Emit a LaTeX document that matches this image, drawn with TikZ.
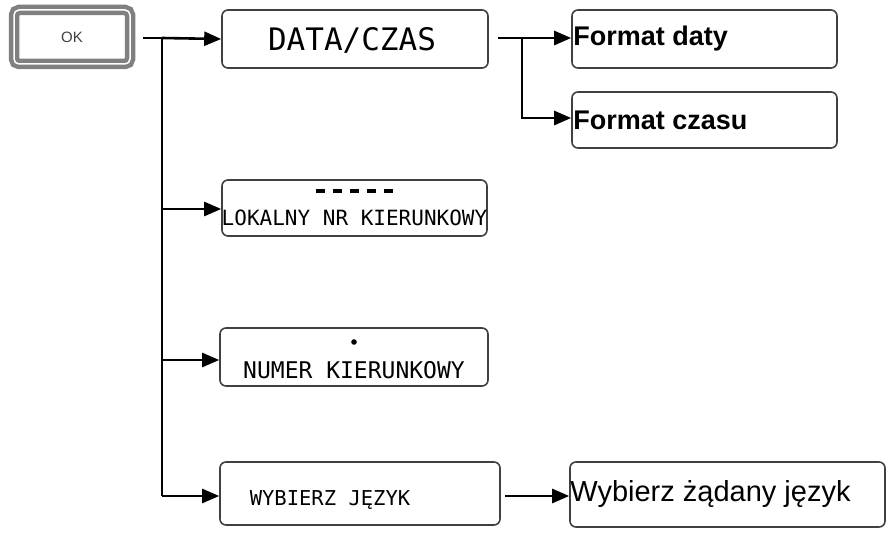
\documentclass[tikz,border=0pt]{standalone}
\usepackage{fontspec}
\setmainfont{Liberation Sans}
\newfontfamily\lcd{DejaVu Sans Mono}
\usetikzlibrary{arrows.meta}
\begin{document}
\begin{tikzpicture}[x=1pt,y=-1pt,
  box/.style={draw=black!75,line width=1.6pt,rounded corners=6pt,inner sep=0pt},
  arr/.style={line width=2.6pt,-{Triangle[length=17pt,width=14pt]}},
  ln/.style={line width=2.6pt}]
\useasboundingbox (0,0) rectangle (887,534);
\node[draw=gray,line width=4.5pt,rounded corners=5pt,minimum width=116pt,minimum height=54pt,inner sep=0pt,double=white,double distance=1.5pt] (ok) at (72,37) {\fontsize{15}{16}\selectfont\color{black!75}OK};
\node[box,minimum width=266pt,minimum height=58pt] (dc) at (355,39) {};
\node[font=\lcd\fontsize{31}{33}\selectfont] at (352,40) {DATA/CZAS};
\node[box,minimum width=265pt,minimum height=58pt] (fd) at (704.5,39) {};
\node[anchor=west,font=\bfseries\fontsize{27}{30}\selectfont,inner sep=2pt] at (fd.west) {Format daty};
\node[box,minimum width=265pt,minimum height=56pt] (fc) at (704.5,120) {};
\node[anchor=west,font=\bfseries\fontsize{27}{30}\selectfont,inner sep=2pt] at (fc.west) {Format czasu};
\node[box,minimum width=265pt,minimum height=56pt] (lk) at (354.5,208) {};
\node[font=\lcd\fontsize{21}{22}\selectfont] at (354.5,218) {LOKALNY NR KIERUNKOWY};
\foreach \i in {0,...,4} \draw[line width=4pt] (316+\i*17,191) -- ++(9,0);
\node[box,minimum width=268pt,minimum height=58pt] (nk) at (354,357) {};
\node[font=\lcd\fontsize{23}{24}\selectfont] at (354,370) {NUMER KIERUNKOWY};
\fill (354,342) circle (2.8pt);
\node[box,minimum width=280pt,minimum height=63pt] (wj) at (360,493.5) {};
\node[font=\lcd\fontsize{20.5}{22}\selectfont] at (330,500) {WYBIERZ JĘZYK};
\node[box,minimum width=315pt,minimum height=65pt] (wz) at (727.5,494.5) {};
\node[anchor=west,font=\fontsize{29}{31}\selectfont,inner sep=1pt] at (wz.west) {Wybierz żądany język};
\coordinate (t) at (162,38);
\coordinate (b) at (162,496);
\draw[ln] (143,38) -- (t) -- (b);
\draw[arr] (t) -- (dc.west);
\draw[arr] (162,209) -- (lk.west|-0,209);
\draw[arr] (162,360) -- (nk.west|-0,360);
\draw[arr] (b) -- (wj.west|-0,496);
\draw[arr] (498,38) -- (fd.west|-0,38);
\draw[arr] (522,38) -- (522,118) -- (fc.west|-0,118);
\draw[arr] (505,496) -- (wz.west|-0,496);
\end{tikzpicture}
\end{document}
